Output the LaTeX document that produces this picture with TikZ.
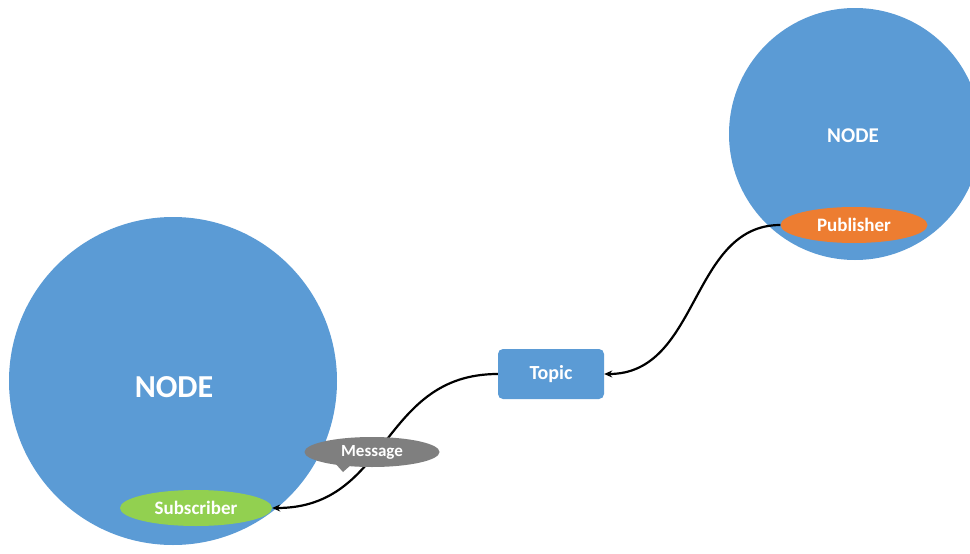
\documentclass[tikz,border=0pt]{standalone}
\usepackage{fontspec}
\setmainfont{Carlito}
\usetikzlibrary{shapes.geometric,arrows.meta}
\definecolor{nodeblue}{HTML}{5B9BD5}
\definecolor{puborange}{HTML}{ED7D31}
\definecolor{subgreen}{HTML}{92D050}
\definecolor{msggray}{HTML}{7F7F7F}
\tikzset{
  bigcircle/.style={circle,fill=nodeblue,draw=none},
  pill/.style={ellipse,draw=none,text=white,font=\bfseries\fontsize{19}{22}\selectfont,inner sep=0pt},
  link/.style={line width=2.2pt,draw=black,-{Stealth[length=8pt,width=7pt]}},
}
\begin{document}
\begin{tikzpicture}[x=1pt,y=-1pt]
\useasboundingbox (0,0) rectangle (970,554);
\fill[white] (0,0) rectangle (970,554);
% nodes
\node[bigcircle,minimum size=328pt] (leftnode) at (173,381) {};
\node[bigcircle,minimum size=252pt] (rightnode) at (855,134) {};
\node[text=white,font=\bfseries\fontsize{32}{36}\selectfont] (leftlabel) at (174,387) {NODE};
\node[text=white,font=\bfseries\fontsize{21}{24}\selectfont] (rightlabel) at (853,136) {NODE};
\node[pill,fill=puborange,minimum width=147pt,minimum height=36pt] (pub) at (854,225) {Publisher};
\node[pill,fill=subgreen,minimum width=152pt,minimum height=36pt] (sub) at (196,508) {Subscriber};
\node[rectangle,rounded corners=5pt,fill=nodeblue,text=white,minimum width=106pt,minimum height=50pt,font=\bfseries\fontsize{20}{24}\selectfont] (topic) at (551,374) {Topic};
% connectors
\draw[link] (pub.west) .. controls (690,225) and (700,374) .. (topic.east);
\draw[link] (topic.west) .. controls (380,374) and (390,508) .. (sub.east);
% message bubble on top of line
\coordinate (tail) at (343,472);
\fill[msggray] (334,462) -- (tail) -- (352,464) -- cycle;
\node[pill,fill=msggray,minimum width=135pt,minimum height=30pt,font=\bfseries\fontsize{17}{20}\selectfont] (msg) at (372,452) {Message};
\end{tikzpicture}
\end{document}
